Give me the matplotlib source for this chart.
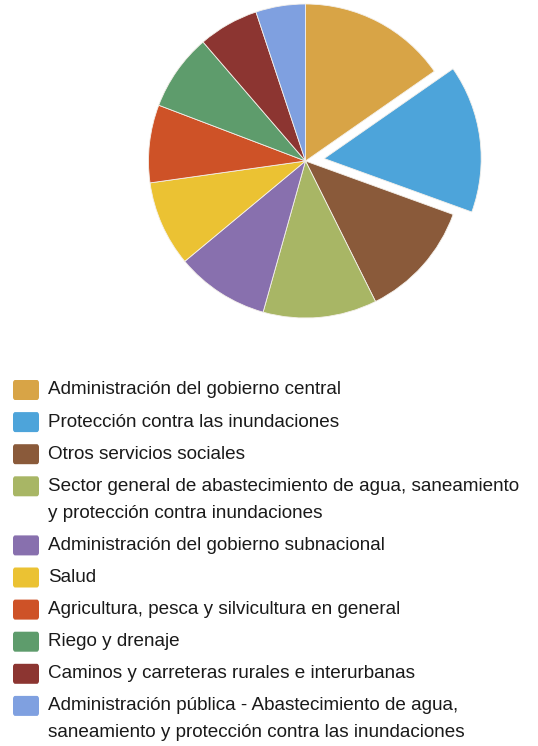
import matplotlib.pyplot as plt
from matplotlib.patches import FancyBboxPatch

plt.rcParams['font.family'] = ['Liberation Sans', 'DejaVu Sans']

sectores = [
    'Administración del gobierno central',
    'Protección contra las inundaciones',
    'Otros servicios sociales',
    'Sector general de abastecimiento de agua, saneamiento\ny protección contra inundaciones',
    'Administración del gobierno subnacional',
    'Salud',
    'Agricultura, pesca y silvicultura en general',
    'Riego y drenaje',
    'Caminos y carreteras rurales e interurbanas',
    'Administración pública - Abastecimiento de agua,\nsaneamiento y protección contra las inundaciones',
]
porcentajes = [15.3, 15.2, 12.1, 11.7, 9.6, 8.8, 8.0, 7.9, 6.2, 5.1]
colores = ['#D8A446', '#4DA4DA', '#8A5A3A', '#A8B665', '#8870AE',
           '#EBC233', '#CE5227', '#5E9C6C', '#8C3531', '#7FA0E0']
separado = [0, 0.12, 0, 0, 0, 0, 0, 0, 0, 0]

W, H = 538, 746
fig = plt.figure(figsize=(W / 100, H / 100), dpi=100)

# pie centred at (305, 161) px with radius ~157 px
cx, cy, r = 305.5, 161, 157
half = 1.2 * r
ax = fig.add_axes([(cx - half) / W, (H - cy - half) / H, 2 * half / W, 2 * half / H])
ax.pie(porcentajes, colors=colores, explode=separado, startangle=90,
       counterclock=False, radius=1,
       wedgeprops=dict(edgecolor='#f4f0ea', linewidth=0.6))
ax.set_xlim(-1.2, 1.2)
ax.set_ylim(-1.2, 1.2)
ax.axis('off')

# legend drawn by hand: swatch + label, second lines indented under the text
y = 390
for nombre, color in zip(sectores, colores):
    fig.patches.append(FancyBboxPatch(
        (13 / W, 1 - (y + 10) / H), 26 / W, 20 / H,
        boxstyle='round,pad=0,rounding_size=0.004',
        transform=fig.transFigure, facecolor=color, edgecolor='none'))
    lineas = nombre.split('\n')
    for i, linea in enumerate(lineas):
        fig.text(48 / W, 1 - (y + 27 * i) / H, linea, fontsize=13.6,
                 color='#1a1a1a', va='center', ha='left')
    y += 32.1 + 27 * (len(lineas) - 1)

fig.savefig('out.png', dpi=100)
